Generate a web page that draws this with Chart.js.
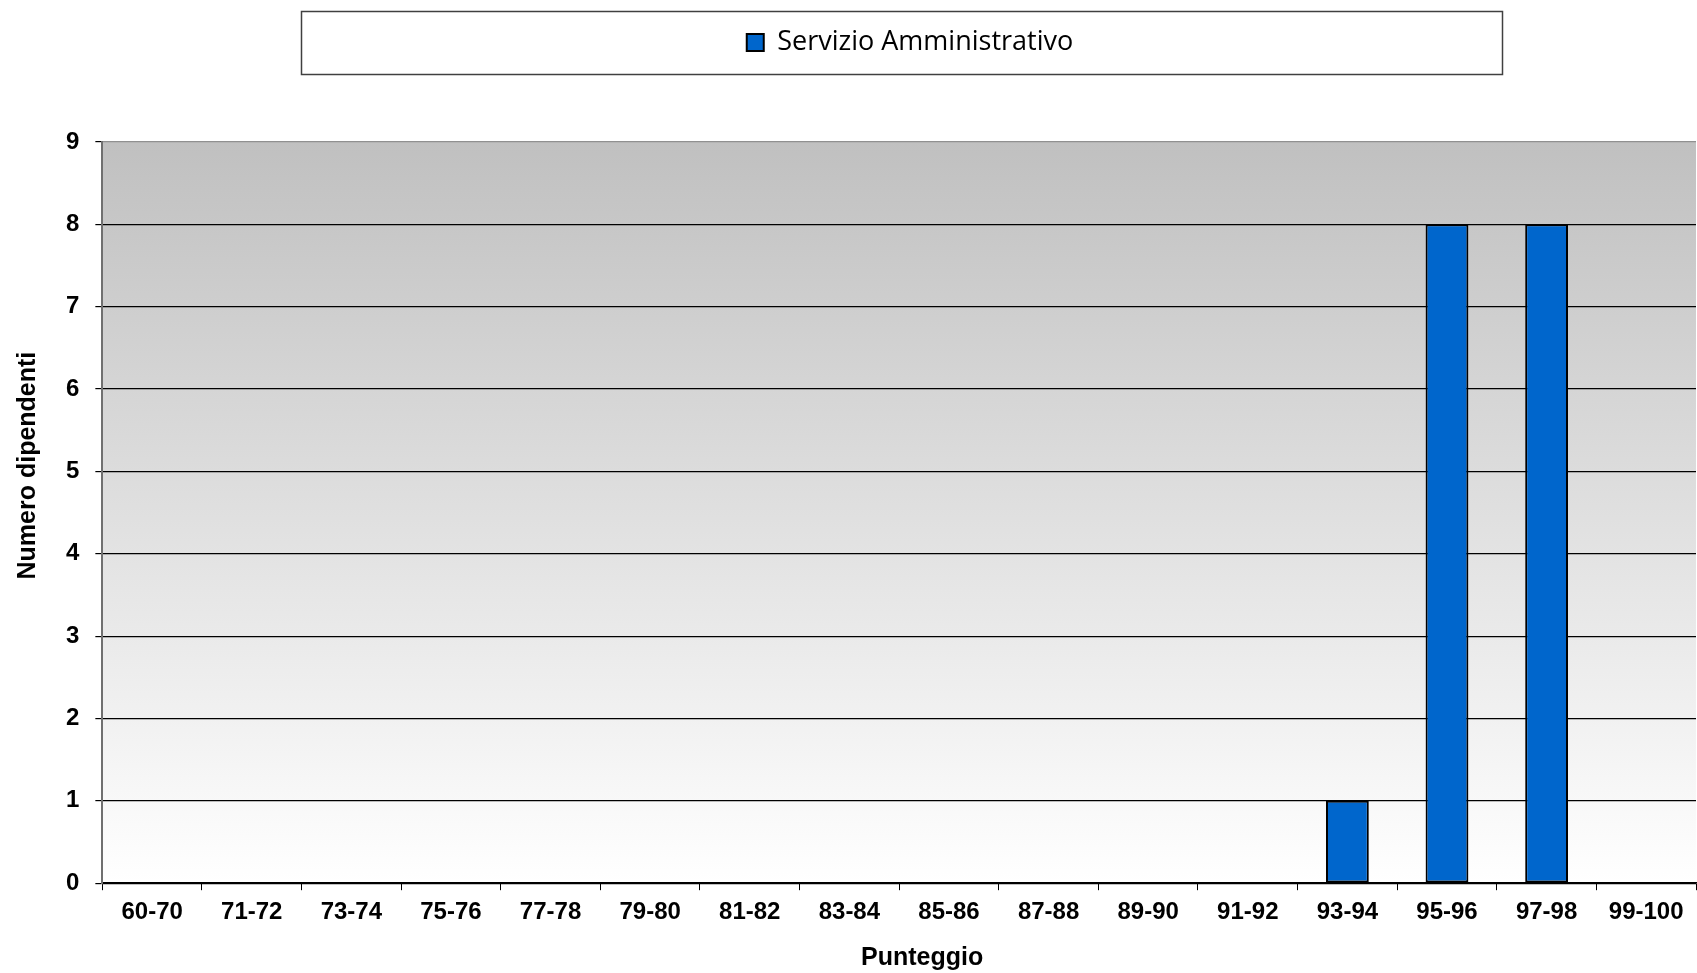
<!DOCTYPE html>
<html>
<head>
<meta charset="utf-8">
<script src="https://cdn.jsdelivr.net/npm/chart.js@4"></script>
<style>
  html, body { margin: 0; padding: 0; background: #fff; }
  #wrap { width: 1697px; height: 973px; }
</style>
</head>
<body>
<div id="wrap"><canvas id="chart"></canvas></div>
<script>
// fasce di punteggio
const labels = ['60-70', '71-72', '73-74', '75-76', '77-78', '79-80', '81-82', '83-84',
                '85-86', '87-88', '89-90', '91-92', '93-94', '95-96', '97-98', '99-100'];
// numero dipendenti per fascia
const servizioAmministrativo = [0, 0, 0, 0, 0, 0, 0, 0, 0, 0, 0, 0, 1, 8, 8, 0];
const yTicks = [0, 1, 2, 3, 4, 5, 6, 7, 8, 9];
const xTitle = 'Punteggio';
const yTitle = 'Numero dipendenti';

const axisFont = { family: 'Liberation Sans', size: 24, weight: 'bold' };

// sfondo grigio sfumato dell'area del grafico
const plotBg = {
    id: 'plotBg',
    beforeDraw(chart) {
        const { ctx, chartArea: a } = chart;
        const g = ctx.createLinearGradient(0, a.top, 0, a.bottom);
        g.addColorStop(0, '#c0c0c0');
        g.addColorStop(1, '#ffffff');
        ctx.save();
        ctx.fillStyle = g;
        ctx.fillRect(a.left, a.top, a.right - a.left, a.bottom - a.top);
        ctx.restore();
    }
};

// riquadro attorno alla legenda, spazio sotto e spostamento a destra
const legendBox = {
    id: 'legendBox',
    beforeInit(chart) {
        const fit = chart.legend.fit;
        chart.legend.fit = function () {
            fit.bind(chart.legend)();
            this.height += 76;
        };
    },
    afterLayout(chart) {
        chart.legend.left += 74;
    },
    afterDraw(chart) {
        const ctx = chart.ctx;
        const w = chart.width;
        ctx.save();
        ctx.strokeStyle = '#404040';
        ctx.lineWidth = 1.5;
        ctx.strokeRect(Math.round(w * 0.1775) + 0.5, 11.5, Math.round(w * 0.708), 63);
        ctx.restore();
    }
};

// titoli degli assi, posizionati come nell'originale (non centrati)
const axisTitles = {
    id: 'axisTitles',
    afterDraw(chart) {
        const { ctx, chartArea: a } = chart;
        const cx = (a.left + a.right) / 2;
        const cy = (a.top + a.bottom) / 2;
        ctx.save();
        ctx.font = 'bold 25px "Liberation Sans"';
        ctx.fillStyle = '#000';
        ctx.textAlign = 'center';
        ctx.textBaseline = 'middle';
        ctx.fillText(xTitle, cx + 23, a.bottom + 75);
        ctx.translate(28, cy - 47);
        ctx.rotate(-Math.PI / 2);
        ctx.fillText(yTitle, 0, 0);
        ctx.restore();
    }
};

new Chart(document.getElementById('chart'), {
    type: 'bar',
    data: {
        labels: labels,
        datasets: [{
            label: 'Servizio Amministrativo',
            data: servizioAmministrativo,
            backgroundColor: '#0066cc',
            borderColor: '#000000',
            borderWidth: 2,
            borderSkipped: false,
            barPercentage: 0.43,
            categoryPercentage: 1.0
        }]
    },
    options: {
        responsive: true,
        maintainAspectRatio: false,
        animation: false,
        layout: { padding: { top: 0, left: 50, right: 1, bottom: 38 } },
        plugins: {
            legend: {
                position: 'top',
                labels: {
                    font: { family: 'Open Sans', size: 27 },
                    color: '#000',
                    boxWidth: 17,
                    boxHeight: 17,
                    padding: 29
                }
            },
            tooltip: { enabled: false }
        },
        scales: {
            x: {
                grid: {
                    display: true,
                    drawOnChartArea: false,
                    drawTicks: true,
                    tickLength: 7,
                    tickColor: '#000',
                    offset: true
                },
                border: { color: '#000', width: 1.5 },
                ticks: { font: axisFont, color: '#000', padding: 8, maxRotation: 0, autoSkip: false }
            },
            y: {
                min: 0,
                max: 9,
                afterBuildTicks(axis) {
                    axis.ticks = yTicks.map(v => ({ value: v }));
                },
                grid: {
                    color: ctx => ctx.tick && ctx.tick.value === 9 ? '#909090' : '#000',
                    lineWidth: 1.2,
                    tickLength: 7,
                    tickColor: '#000'
                },
                border: { color: '#707070', width: 2 },
                ticks: { font: axisFont, color: '#000', padding: 16 }
            }
        }
    },
    plugins: [plotBg, legendBox, axisTitles]
});
</script>
</body>
</html>
